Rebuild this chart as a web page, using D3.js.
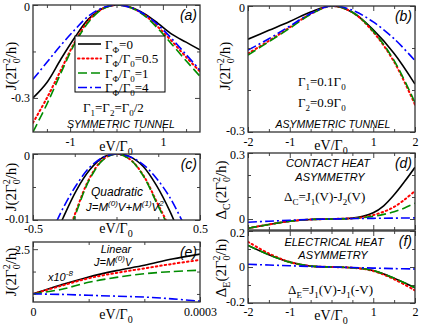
<!DOCTYPE html>
<html>
<head>
<meta charset="UTF-8" />
<title>Heat current panels</title>
<script src="https://cdn.jsdelivr.net/npm/d3@7"></script>
<style>
  body { margin: 0; background: #fff; }
  text { font-family: "Liberation Serif", "DejaVu Serif", serif; }
  .note { font-family: "Liberation Sans", Arial, sans-serif; font-style: italic; }
</style>
</head>
<body>
<script>
// ---- data ----
var seriesNames = ["ΓΦ=0", "ΓΦ/Γ0=0.5", "ΓΦ/Γ0=1", "ΓΦ/Γ0=4"];
var seriesColors = ["#000000", "#ff0000", "#008c00", "#0000ff"];
var seriesDash = [null, "1.5,3", "9,4", "9,3,2,3"];

// (a) symmetric tunnel
var aV = [-1.8, -1.5, -1.2, -0.9, -0.6, -0.3, 0, 0.3, 0.6, 0.9, 1.2, 1.5, 1.8];
var aG0 = [-0.30, -0.25, -0.175, -0.105, -0.045, -0.011, 0, -0.007, -0.028, -0.06, -0.095, -0.12, -0.145];
var aG05 = [-0.38, -0.30, -0.21, -0.12, -0.05, -0.012, 0, -0.008, -0.032, -0.072, -0.118, -0.168, -0.215];
var aG1 = [-0.41, -0.32, -0.22, -0.125, -0.055, -0.013, 0, -0.008, -0.034, -0.077, -0.128, -0.18, -0.23];
var aG4 = [-0.24, -0.185, -0.13, -0.08, -0.035, -0.009, 0, -0.008, -0.03, -0.065, -0.11, -0.16, -0.21];

// (b) asymmetric tunnel
var bV = [-2, -1.5, -1, -0.5, 0, 0.5, 1, 1.5, 2];
var bG0 = [-0.079, -0.058, -0.037, -0.014, 0, -0.015, -0.057, -0.113, -0.186];
var bG05 = [-0.113, -0.083, -0.051, -0.019, 0, -0.015, -0.062, -0.133, -0.235];
var bG1 = [-0.117, -0.085, -0.053, -0.02, 0, -0.015, -0.06, -0.13, -0.23];
var bG4 = [-0.105, -0.078, -0.048, -0.018, 0, -0.01, -0.038, -0.078, -0.13];

// (c) quadratic
var cV = [-0.4, -0.32, -0.24, -0.16, -0.08, 0, 0.08, 0.16, 0.24, 0.32, 0.4];
var cG0 = [-0.0145, -0.0097, -0.0055, -0.0024, -0.0005, 0, -0.0004, -0.0019, -0.0048, -0.0087, -0.0135];
var cG05 = [-0.0215, -0.0145, -0.0085, -0.0036, -0.0008, 0, -0.0008, -0.0032, -0.0072, -0.0114, -0.0175];
var cG1 = [-0.022, -0.015, -0.0088, -0.0038, -0.0009, 0, -0.0008, -0.0033, -0.0074, -0.0117, -0.018];
var cG4 = [-0.0125, -0.0082, -0.0047, -0.002, -0.0005, 0, -0.0004, -0.0016, -0.0037, -0.0066, -0.0105];

// (d) contact heat asymmetry
var dV = [-2, -1.5, -1, -0.5, 0, 0.5, 0.75, 1, 1.25, 1.5, 1.75, 2];
var dG0 = [-0.042, -0.025, -0.01, -0.002, 0, 0.004, 0.012, 0.028, 0.06, 0.11, 0.17, 0.235];
var dG05 = [-0.042, -0.025, -0.01, -0.002, 0, 0.003, 0.008, 0.018, 0.033, 0.055, 0.088, 0.128];
var dG1 = [-0.042, -0.025, -0.01, -0.002, 0, 0.002, 0.006, 0.012, 0.021, 0.033, 0.05, 0.072];
var dG4 = [-0.015, -0.01, -0.006, -0.002, 0, 0.002, 0.0025, 0.003, 0.0035, 0.004, 0.0045, 0.005];

// (e) linear, x10^-8
var eV = [0, 0.00005, 0.0001, 0.00015, 0.0002, 0.00025, 0.0003];
var eG0 = [1.5, 1.7, 1.88, 2.02, 2.14, 2.28, 2.39];
var eG05 = [1.5, 1.68, 1.85, 1.97, 2.07, 2.17, 2.26];
var eG1 = [1.5, 1.6, 1.76, 1.87, 1.95, 2.0, 2.03];
var eG4 = [1.5, 1.49, 1.47, 1.45, 1.43, 1.39, 1.34];

// (f) electrical heat asymmetry
var fV = [-2, -1.5, -1, -0.5, 0, 0.5, 1, 1.5, 2];
var fG0 = [0.12, 0.068, 0.027, 0.005, 0, -0.004, -0.02, -0.062, -0.115];
var fG05 = [0.14, 0.075, 0.028, 0.005, 0, -0.004, -0.022, -0.068, -0.13];
var fG1 = [0.12, 0.068, 0.027, 0.005, 0, -0.004, -0.02, -0.062, -0.115];
var fG4 = [0.015, 0.011, 0.007, 0.003, 0, -0.003, -0.006, -0.009, -0.011];

var svg = d3.select("body").append("svg").attr("width", 430).attr("height", 332);

function fmt(d) { return String(d); }

function panel(p) {
  var x = d3.scaleLinear().domain(p.xd).range([p.x0, p.x1]);
  var y = d3.scaleLinear().domain(p.yd).range([p.y1, p.y0]);
  var g = svg.append("g");
  var id = "clip" + p.name;
  svg.append("clipPath").attr("id", id).append("rect")
    .attr("x", p.x0).attr("y", p.y0).attr("width", p.x1 - p.x0).attr("height", p.y1 - p.y0);

  var line = d3.line().x(function (d) { return x(d[0]); }).y(function (d) { return y(d[1]); })
    .curve(d3.curveCatmullRom);
  p.series.forEach(function (s, i) {
    var pts = p.v.map(function (v, k) { return [v, s[k]]; });
    g.append("path").attr("d", line(pts)).attr("clip-path", "url(#" + id + ")")
      .attr("fill", "none").attr("stroke", seriesColors[i])
      .attr("stroke-width", i === 1 ? 2 : 1.6)
      .attr("stroke-linecap", i === 1 ? "round" : "butt")
      .attr("stroke-dasharray", seriesDash[i]);
  });

  // inward ticks on all four sides
  function ax(gen, scale, vals, size, labels, tx, ty) {
    var a = g.append("g").attr("transform", "translate(" + tx + "," + ty + ")")
      .call(gen(scale).tickValues(vals).tickSize(-size).tickPadding(3)
        .tickFormat(labels ? fmt : ""));
    a.select(".domain").remove();
    a.selectAll("line").attr("stroke", "#444");
    a.selectAll("text").attr("font-size", 12).attr("fill", "#000")
      .attr("font-family", "Liberation Serif");
    return a;
  }
  var xl = ax(d3.axisBottom, x, p.xMajor, 5, p.xLabels, 0, p.y1);
  ax(d3.axisBottom, x, p.xMinor, 3, false, 0, p.y1);
  ax(d3.axisTop, x, p.xMajor, 5, false, 0, p.y0);
  ax(d3.axisTop, x, p.xMinor, 3, false, 0, p.y0);
  var yl = ax(d3.axisLeft, y, p.yMajor, 5, true, p.x0, 0);
  ax(d3.axisLeft, y, p.yMinor, 3, false, p.x0, 0);
  ax(d3.axisRight, y, p.yMajor, 5, false, p.x1, 0);
  ax(d3.axisRight, y, p.yMinor, 3, false, p.x1, 0);
  xl.selectAll("text").attr("y", p.xPad || 4).attr("dy", "0.71em");
  // nudge the top/bottom y labels so they stay clear of the frame corners
  yl.selectAll("text").attr("dy", function (d) {
    if (d === p.yd[1]) return "0.45em";
    if (d === p.yd[0]) return "0.2em";
    return "0.32em";
  });

  g.append("rect").attr("x", p.x0).attr("y", p.y0)
    .attr("width", p.x1 - p.x0).attr("height", p.y1 - p.y0)
    .attr("fill", "none").attr("stroke", "#333").attr("stroke-width", 1.3);

  g.append("text").attr("class", "note").attr("x", p.x1 - 3).attr("y", p.y0 + 15)
    .attr("text-anchor", "end").attr("font-size", 14).text(p.tag);
  return { x: x, y: y, g: g };
}

// label helpers
function yLabel(cx, cy, prefix, sub) {
  var t = svg.append("text").attr("transform", "translate(" + cx + "," + cy + ") rotate(-90)")
    .attr("text-anchor", "middle").attr("font-size", 15);
  t.append("tspan").text(prefix);
  if (sub) t.append("tspan").attr("font-size", 10).attr("dy", 4).text(sub);
  t.append("tspan").attr("dy", sub ? -4 : 0).text("(2Γ");
  t.append("tspan").attr("font-size", 10).attr("dy", 4).text("0");
  t.append("tspan").attr("font-size", 10).attr("dx", -5).attr("dy", -10).text("2");
  t.append("tspan").attr("dy", 6).text("/h)");
}
function xLabel(cx, cy) {
  var t = svg.append("text").attr("x", cx).attr("y", cy).attr("text-anchor", "middle").attr("font-size", 14);
  t.append("tspan").text("eV/Γ");
  t.append("tspan").attr("font-size", 10).attr("dy", 4).text("0");
}
function gammaLine(x, y, parts) {
  var t = svg.append("text").attr("x", x).attr("y", y).attr("font-size", 13);
  parts.forEach(function (p) {
    var s = t.append("tspan").text(p[0]);
    if (p[1] === "sub") s.attr("font-size", 9).attr("dy", 4);
    if (p[1] === "up") s.attr("dy", -4);
  });
  return t;
}

var L = [33, 200], R = [248, 415];

// (a)
panel({ name: "a", x0: L[0], x1: L[1], y0: 5, y1: 132, xd: [-1.8, 1.8], yd: [-0.41, 0],
  xMajor: [-1, 1], xMinor: [-1.5, -0.5, 0, 0.5, 1.5], xLabels: true, xPad: 5,
  yMajor: [0, -0.3], yMinor: [-0.15], v: aV, series: [aG0, aG05, aG1, aG4], tag: "(a)" });
yLabel(16, 66, "J", null);
xLabel(116, 151);

// legend in (a)
var lg = svg.append("g");
lg.append("rect").attr("x", 75).attr("y", 36).attr("width", 90).attr("height", 56)
  .attr("fill", "#fff").attr("stroke", "#000").attr("stroke-width", 1);
seriesNames.forEach(function (n, i) {
  var yy = 44 + i * 14.5;
  lg.append("line").attr("x1", 78).attr("x2", 101).attr("y1", yy).attr("y2", yy)
    .attr("stroke", seriesColors[i]).attr("stroke-width", i === 1 ? 2 : 1.6)
    .attr("stroke-linecap", i === 1 ? "round" : "butt")
    .attr("stroke-dasharray", seriesDash[i]);
  var t = lg.append("text").attr("x", 105).attr("y", yy + 4.5).attr("font-size", 13);
  t.append("tspan").text("Γ");
  t.append("tspan").attr("font-size", 9).attr("dy", 4).text("Φ");
  if (i === 0) {
    t.append("tspan").attr("dy", -4).text("=0");
  } else {
    t.append("tspan").attr("dy", -4).text("/Γ");
    t.append("tspan").attr("font-size", 9).attr("dy", 4).text("0");
    t.append("tspan").attr("dy", -4).text(["", "=0.5", "=1", "=4"][i]);
  }
});
gammaLine(83, 112, [["Γ"], ["1", "sub"], ["=Γ", "up"], ["2", "sub"], ["=Γ", "up"], ["0", "sub"], ["/2", "up"]]);
svg.append("text").attr("class", "note").attr("x", 121).attr("y", 128)
  .attr("text-anchor", "middle").attr("font-size", 10.5).text("SYMMETRIC TUNNEL");

// (b)
panel({ name: "b", x0: R[0], x1: R[1], y0: 6, y1: 132, xd: [-2, 2], yd: [-0.3, 0],
  xMajor: [-2, -1, 1, 2], xMinor: [-1.5, -0.5, 0, 0.5, 1.5], xLabels: true, xPad: 5,
  yMajor: [0, -0.3], yMinor: [-0.1, -0.2], v: bV, series: [bG0, bG05, bG1, bG4], tag: "(b)" });
yLabel(230, 66, "J", null);
xLabel(331, 150);
gammaLine(298, 86, [["Γ"], ["1", "sub"], ["=0.1Γ", "up"], ["0", "sub"]]);
gammaLine(298, 107, [["Γ"], ["2", "sub"], ["=0.9Γ", "up"], ["0", "sub"]]);
svg.append("text").attr("class", "note").attr("x", 333).attr("y", 128)
  .attr("text-anchor", "middle").attr("font-size", 10.5).text("ASYMMETRIC TUNNEL");

// (c)
panel({ name: "c", x0: L[0], x1: L[1], y0: 154, y1: 220, xd: [-0.5, 0.5], yd: [-0.01, 0],
  xMajor: [-0.5, 0.5], xMinor: [-0.25, 0, 0.25], xLabels: true, xPad: 4,
  yMajor: [0, -0.01], yMinor: [-0.005], v: cV, series: [cG0, cG05, cG1, cG4], tag: "(c)" });
yLabel(16, 187, "J", null);
xLabel(116, 233);
svg.append("text").attr("class", "note").attr("x", 117).attr("y", 196)
  .attr("text-anchor", "middle").attr("font-size", 12).text("Quadratic");
(function () {
  var t = svg.append("text").attr("class", "note").attr("x", 86).attr("y", 211).attr("font-size", 11.5);
  t.append("tspan").text("J=M");
  t.append("tspan").attr("font-size", 8).attr("dy", -5).text("(0)");
  t.append("tspan").attr("dy", 5).text("V+M");
  t.append("tspan").attr("font-size", 8).attr("dy", -5).text("(1)");
  t.append("tspan").attr("dy", 5).text("V");
  t.append("tspan").attr("font-size", 8).attr("dy", -5).text("2");
})();

// (d)
panel({ name: "d", x0: R[0], x1: R[1], y0: 153, y1: 230, xd: [-2, 2], yd: [-0.05, 0.3],
  xMajor: [-2, -1, 1, 2], xMinor: [-1.5, -0.5, 0, 0.5, 1.5], xLabels: false,
  yMajor: [0.3, 0], yMinor: [0.1, 0.2], v: dV, series: [dG0, dG05, dG1, dG4], tag: "(d)" });
yLabel(226, 190, "Δ", "C");
svg.append("text").attr("class", "note").attr("x", 328).attr("y", 167)
  .attr("text-anchor", "middle").attr("font-size", 11).text("CONTACT HEAT");
svg.append("text").attr("class", "note").attr("x", 330).attr("y", 181)
  .attr("text-anchor", "middle").attr("font-size", 11).text("ASYMMETRY");
gammaLine(284, 201, [["Δ"], ["C", "sub"], ["=J", "up"], ["1", "sub"], ["(V)-J", "up"], ["2", "sub"], ["(V)", "up"]]);

// (e)
panel({ name: "e", x0: L[0], x1: L[1], y0: 242, y1: 302, xd: [0, 0.0003], yd: [1.32, 2.66],
  xMajor: [0, 0.0003], xMinor: [0.0001, 0.0002], xLabels: true, xPad: 5,
  yMajor: [2.5], yMinor: [2, 1.5], v: eV, series: [eG0, eG05, eG1, eG4], tag: "(e)" });
yLabel(16, 272, "J", null);
xLabel(116, 319);
svg.append("text").attr("class", "note").attr("x", 116).attr("y", 253)
  .attr("text-anchor", "middle").attr("font-size", 11).text("Linear");
(function () {
  var t = svg.append("text").attr("class", "note").attr("x", 94).attr("y", 266).attr("font-size", 11);
  t.append("tspan").text("J=M");
  t.append("tspan").attr("font-size", 8).attr("dy", -5).text("(0)");
  t.append("tspan").attr("dy", 5).text("V");
  var u = svg.append("text").attr("class", "note").attr("x", 48).attr("y", 281).attr("font-size", 11);
  u.append("tspan").text("x10");
  u.append("tspan").attr("font-size", 8).attr("dy", -5).text("-8");
})();

// (f)
panel({ name: "f", x0: R[0], x1: R[1], y0: 231, y1: 303, xd: [-2, 2], yd: [-0.2, 0.2],
  xMajor: [-2, -1, 1, 2], xMinor: [-1.5, -0.5, 0, 0.5, 1.5], xLabels: true, xPad: 4,
  yMajor: [0.2, 0, -0.2], yMinor: [0.1, -0.1], v: fV, series: [fG0, fG05, fG1, fG4], tag: "(f)" });
yLabel(226, 268, "Δ", "E");
xLabel(331, 320);
svg.append("text").attr("class", "note").attr("x", 334).attr("y", 246)
  .attr("text-anchor", "middle").attr("font-size", 11).text("ELECTRICAL HEAT");
svg.append("text").attr("class", "note").attr("x", 333).attr("y", 259)
  .attr("text-anchor", "middle").attr("font-size", 11).text("ASYMMETRY");
gammaLine(288, 294, [["Δ"], ["E", "sub"], ["=J", "up"], ["1", "sub"], ["(V)-J", "up"], ["1", "sub"], ["(-V)", "up"]]);
</script>
</body>
</html>
